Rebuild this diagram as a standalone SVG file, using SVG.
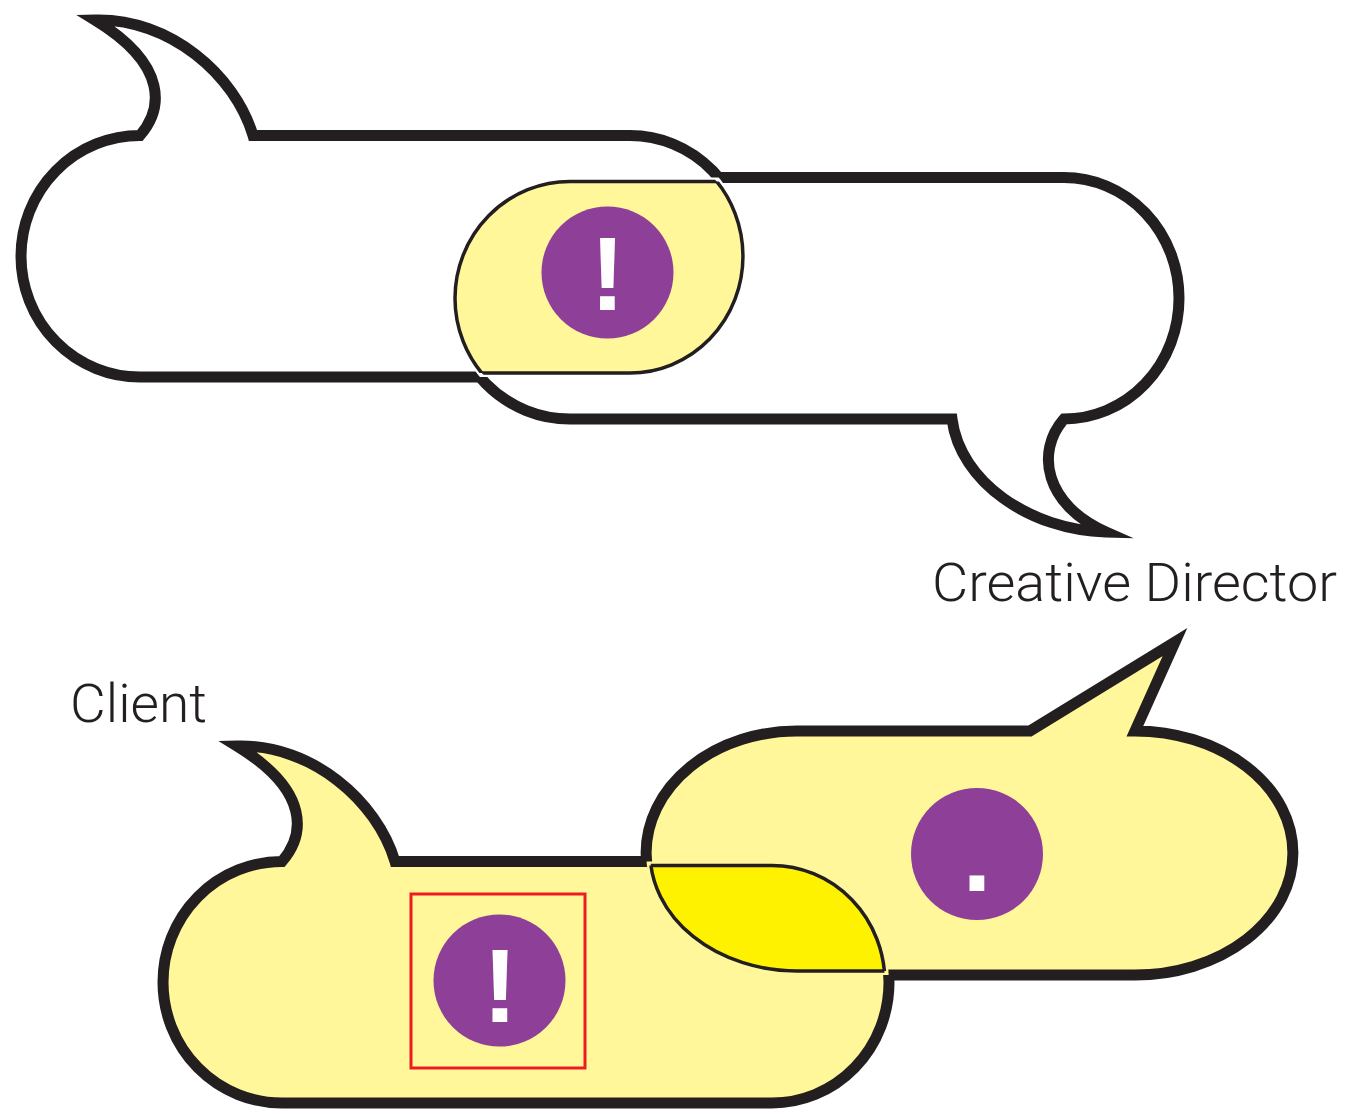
<svg xmlns="http://www.w3.org/2000/svg" width="1355" height="1109" viewBox="0 0 1355 1109">
  <style>
    .white { fill: #ffffff; }
    .pale { fill: #fff799; }
    .bright { fill: #fff200; }
    .outline { fill: none; stroke: #231f20; stroke-width: 11; stroke-linejoin: miter; stroke-miterlimit: 10; }
    .seam { fill: none; stroke: #231f20; stroke-width: 3.5; }
    .badge { fill: #8e3f97; }
    .mark { font-family: "Liberation Sans", Arial, sans-serif; font-weight: bold; font-size: 104px; fill: #ffffff; text-anchor: middle; }
    .label { font-family: Roboto, "Liberation Sans", Arial, sans-serif; font-weight: 300; font-size: 54px; fill: #231f20; }
    .frame { fill: none; stroke: #ed1c24; stroke-width: 3; }
  </style>
  <defs>
    <!-- bubble outlines (stroke centre lines) -->
    <path id="pA" d="M253,135.5 H630 A117 120.75 0 0 1 630,377 H140 A119 120.75 0 0 1 140,135.5 C162,110 170,66 95,20 C170,18 235,75 253,135.5 Z"/>
    <path id="pB" d="M570,177.5 H1064 A115 120.75 0 0 1 1064,419 C1035,452 1045,505 1106,532 C1030,530 960,482 952,419 H570 A119 120.75 0 0 1 570,177.5 Z"/>
    <path id="pC" d="M395,861.5 H772 A117 120.75 0 0 1 772,1103 H282 A119 120.75 0 0 1 282,861.5 C304,836 312,792 237,746 C312,744 377,801 395,861.5 Z"/>
    <path id="pD" d="M797,731 H1030 L1175,642 L1135,731 A158 122 0 0 1 1135,975 H797 A151 122 0 0 1 797,731 Z"/>
    <!-- inner edges used for the overlap lenses -->
    <path id="pAin" d="M140,139.5 H630 A113 116.75 0 0 1 630,373 H140 A115 116.75 0 0 1 140,139.5 Z"/>
    <path id="pBin" d="M570,181.5 H1064 A111 116.75 0 0 1 1064,415 H570 A115 116.75 0 0 1 570,181.5 Z"/>
    <path id="pCin" d="M282,865.5 H772 A113 116.75 0 0 1 772,1099 H282 A115 116.75 0 0 1 282,865.5 Z"/>
    <path id="pDin" d="M797,735 H1135 A154 118 0 0 1 1135,971 H797 A147 118 0 0 1 797,735 Z"/>
    <clipPath id="inA"><use href="#pAin"/></clipPath>
    <clipPath id="inB"><use href="#pBin"/></clipPath>
    <clipPath id="inC"><use href="#pCin"/></clipPath>
    <clipPath id="inD"><use href="#pDin"/></clipPath>
    <mask id="offA" maskUnits="userSpaceOnUse" x="0" y="0" width="1355" height="1109">
      <rect width="1355" height="1109" fill="#ffffff"/><use href="#pA" fill="#000000"/>
    </mask>
    <mask id="offB" maskUnits="userSpaceOnUse" x="0" y="0" width="1355" height="1109">
      <rect width="1355" height="1109" fill="#ffffff"/><use href="#pB" fill="#000000"/>
    </mask>
    <mask id="offC" maskUnits="userSpaceOnUse" x="0" y="0" width="1355" height="1109">
      <rect width="1355" height="1109" fill="#ffffff"/><use href="#pC" fill="#000000"/>
    </mask>
    <mask id="offD" maskUnits="userSpaceOnUse" x="0" y="0" width="1355" height="1109">
      <rect width="1355" height="1109" fill="#ffffff"/><use href="#pD" fill="#000000"/>
    </mask>
  </defs>

  <rect width="1355" height="1109" fill="#ffffff"/>

  <!-- upper exchange -->
  <g id="client-bubble-top">
    <use href="#pA" class="white"/>
  </g>
  <g id="director-bubble-top">
    <use href="#pB" class="white"/>
  </g>
  <g id="top-outlines">
    <use href="#pA" class="outline" mask="url(#offB)"/>
    <use href="#pB" class="outline" mask="url(#offA)"/>
  </g>
  <g id="top-overlap">
    <use href="#pBin" class="pale" clip-path="url(#inA)"/>
    <use href="#pBin" class="seam" clip-path="url(#inA)"/>
    <use href="#pAin" class="seam" clip-path="url(#inB)"/>
    <circle class="badge" cx="607.5" cy="272.5" r="66"/>
    <text class="mark" x="607.5" y="310">!</text>
  </g>

  <!-- lower exchange -->
  <g id="client-bubble-bottom">
    <use href="#pC" class="pale"/>
  </g>
  <g id="director-bubble-bottom">
    <use href="#pD" class="pale"/>
  </g>
  <g id="bottom-outlines">
    <use href="#pC" class="outline" mask="url(#offD)"/>
    <use href="#pD" class="outline" mask="url(#offC)"/>
  </g>
  <g id="bottom-overlap">
    <use href="#pDin" class="bright" clip-path="url(#inC)"/>
    <use href="#pDin" class="seam" clip-path="url(#inC)"/>
    <use href="#pCin" class="seam" clip-path="url(#inD)"/>
  </g>
  <g id="client-point">
    <rect class="frame" x="411" y="894" width="174" height="174"/>
    <circle class="badge" cx="499.5" cy="980.5" r="66"/>
    <text class="mark" x="500" y="1022">!</text>
  </g>
  <g id="director-point">
    <circle class="badge" cx="977" cy="854" r="66"/>
    <text class="mark" x="977" y="891">.</text>
  </g>

  <!-- speaker labels -->
  <g id="label-director">
    <text class="label" x="932" y="601" textLength="405" lengthAdjust="spacingAndGlyphs">Creative Director</text>
  </g>
  <g id="label-client">
    <text class="label" x="70" y="722" textLength="137" lengthAdjust="spacingAndGlyphs">Client</text>
  </g>
</svg>
